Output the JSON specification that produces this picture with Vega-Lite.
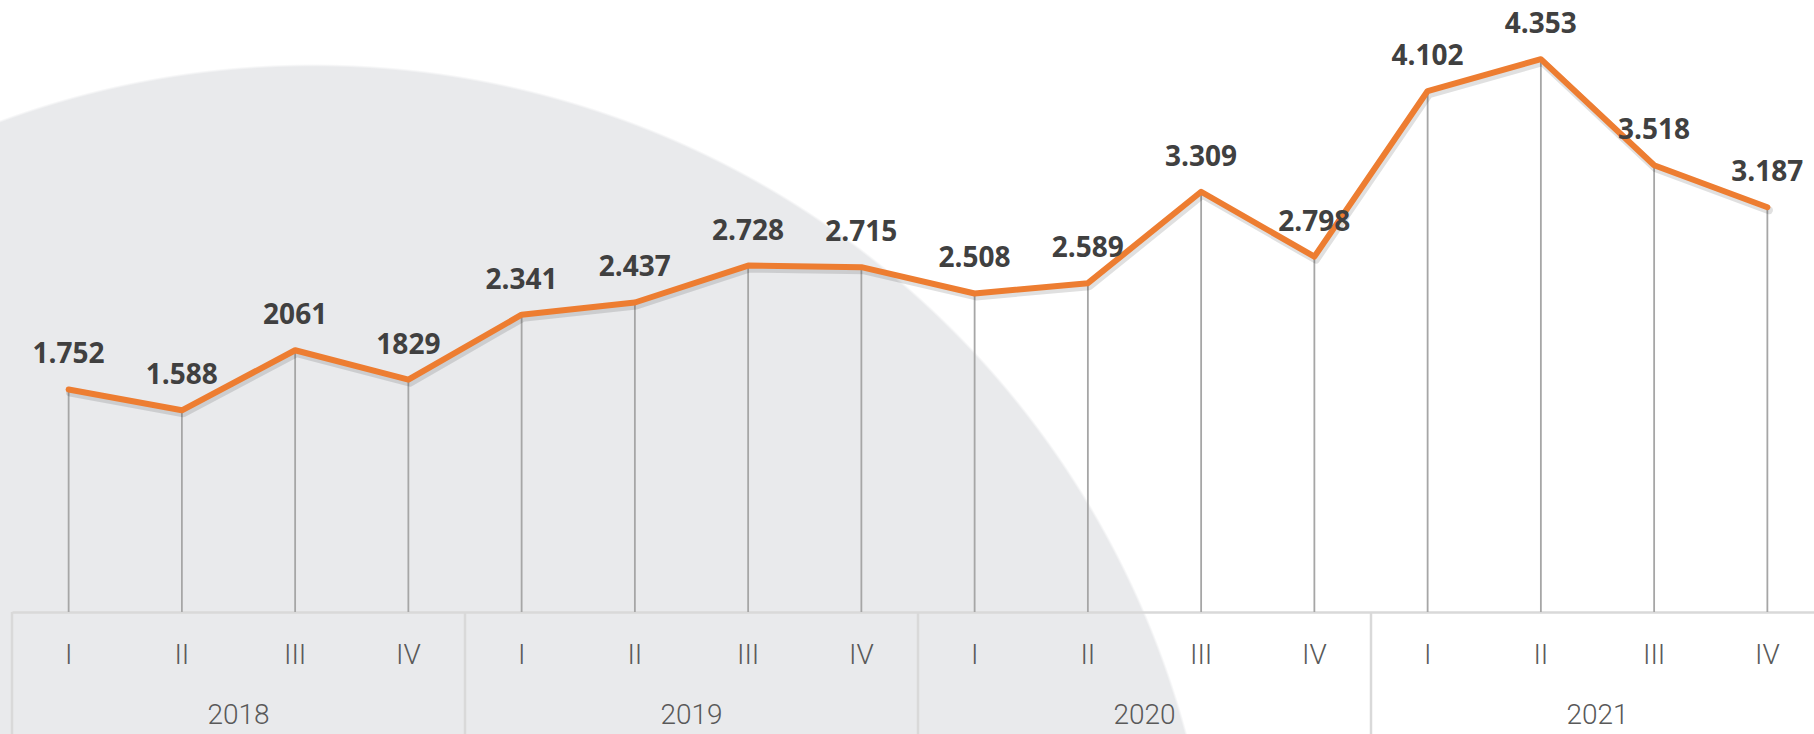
{
  "$schema": "https://vega.github.io/schema/vega-lite/v6.json",
  "width": 1814,
  "height": 734,
  "autosize": {"type": "none"},
  "padding": 0,
  "background": "#ffffff",
  "config": {
    "view": {
      "stroke": null,
      "fill": {
        "gradient": "radial",
        "x1": 0.1728, "y1": 0.8319, "r1": 0,
        "x2": 0.1728, "y2": 0.8319, "r2": 0.4989,
        "stops": [
          {"offset": 0, "color": "#e9eaec"},
          {"offset": 0.997, "color": "#e9eaec"},
          {"offset": 1, "color": "#ffffff"}
        ]
      }
    }
  },
  "layer": [
    {
      "data": {
        "values": [
          {"period": "2018-I", "value": 1752, "label": "1.752"},
          {"period": "2018-II", "value": 1588, "label": "1.588"},
          {"period": "2018-III", "value": 2061, "label": "2061"},
          {"period": "2018-IV", "value": 1829, "label": "1829"},
          {"period": "2019-I", "value": 2341, "label": "2.341"},
          {"period": "2019-II", "value": 2437, "label": "2.437"},
          {"period": "2019-III", "value": 2728, "label": "2.728"},
          {"period": "2019-IV", "value": 2715, "label": "2.715"},
          {"period": "2020-I", "value": 2508, "label": "2.508"},
          {"period": "2020-II", "value": 2589, "label": "2.589"},
          {"period": "2020-III", "value": 3309, "label": "3.309"},
          {"period": "2020-IV", "value": 2798, "label": "2.798"},
          {"period": "2021-I", "value": 4102, "label": "4.102"},
          {"period": "2021-II", "value": 4353, "label": "4.353"},
          {"period": "2021-III", "value": 3518, "label": "3.518"},
          {"period": "2021-IV", "value": 3187, "label": "3.187"}
        ]
      },
      "encoding": {
        "x": {
          "field": "period",
          "type": "ordinal",
          "sort": null,
          "scale": {"type": "band", "range": [12, 1824], "paddingInner": 0, "paddingOuter": 0},
          "axis": {
            "orient": "bottom",
            "offset": -122,
            "title": null,
            "domain": true,
            "domainColor": "#d9d9d9",
            "domainWidth": 2.5,
            "ticks": false,
            "grid": false,
            "labelExpr": "split(datum.label, '-')[1]",
            "labelFont": "Roboto",
            "labelFontWeight": 300,
            "labelFontSize": 28,
            "labelColor": "#595959",
            "labelPadding": 43,
            "labelBaseline": "middle",
            "labelAngle": 0,
            "labelOverlap": false,
            "labelFlush": false
          }
        },
        "y": {
          "field": "value",
          "type": "quantitative",
          "scale": {"domain": [-961, 4819], "nice": false, "zero": false},
          "axis": null
        }
      },
      "layer": [
        {
          "mark": {"type": "rule", "color": "#a6a6a6", "strokeWidth": 1.8},
          "encoding": {"y2": {"datum": 0}}
        },
        {
          "mark": {"type": "line", "color": "#000000", "opacity": 0.12, "strokeWidth": 8, "xOffset": 1.5, "yOffset": 3, "strokeJoin": "round", "strokeCap": "round"},
          "encoding": {}
        },
        {
          "mark": {"type": "line", "color": "#ED7D31", "strokeWidth": 6, "strokeJoin": "round", "strokeCap": "round"},
          "encoding": {}
        },
        {
          "mark": {"type": "text", "font": "Open Sans", "fontWeight": "bold", "fontSize": 28, "color": "#404040", "align": "center", "baseline": "alphabetic", "dy": -26},
          "encoding": {"text": {"field": "label"}}
        }
      ]
    },
    {
      "data": {"values": [{"year": "2018"}, {"year": "2019"}, {"year": "2020"}, {"year": "2021"}]},
      "mark": {"type": "rule", "color": "#d9d9d9", "strokeWidth": 2.5},
      "encoding": {
        "x": {
          "field": "year",
          "type": "ordinal",
          "bandPosition": 0,
          "scale": {"type": "band", "range": [12, 1824], "paddingInner": 0, "paddingOuter": 0},
          "axis": {
            "orient": "bottom",
            "offset": -122,
            "title": null,
            "domain": false,
            "ticks": false,
            "grid": false,
            "labelFont": "Roboto",
            "labelFontWeight": 300,
            "labelFontSize": 28,
            "labelColor": "#595959",
            "labelPadding": 103,
            "labelBaseline": "middle",
            "labelAngle": 0,
            "labelOverlap": false,
            "labelFlush": false
          }
        },
        "y": {"datum": 0, "type": "quantitative", "scale": {"domain": [-961, 4819], "nice": false, "zero": false}, "axis": null},
        "y2": {"datum": -961}
      }
    }
  ],
  "resolve": {"scale": {"x": "independent"}, "axis": {"x": "independent"}}
}
